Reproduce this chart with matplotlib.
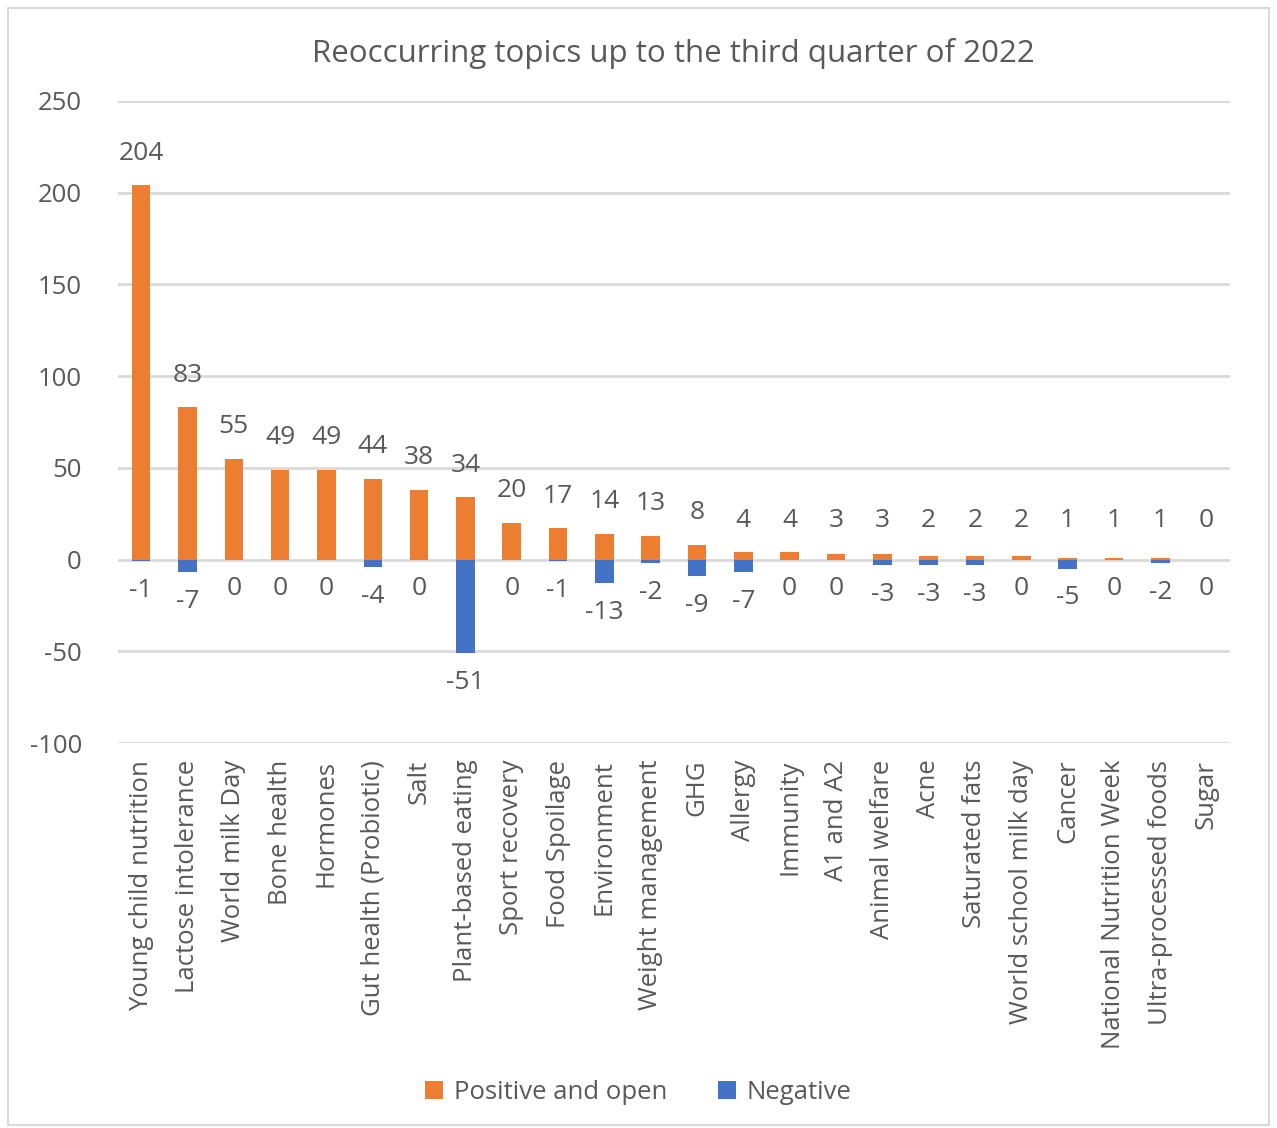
import numpy as np
from matplotlib import pyplot as plt
from matplotlib.patches import Rectangle

topics = ['Young child nutrition', 'Lactose intolerance', 'World milk Day', 'Bone health',
          'Hormones', 'Gut health (Probiotic)', 'Salt', 'Plant-based eating', 'Sport recovery',
          'Food Spoilage', 'Environment', 'Weight management', 'GHG', 'Allergy', 'Immunity',
          'A1 and A2', 'Animal welfare', 'Acne', 'Saturated fats', 'World school milk day',
          'Cancer', 'National Nutrition Week', 'Ultra-processed foods', 'Sugar']
positive = [204, 83, 55, 49, 49, 44, 38, 34, 20, 17, 14, 13, 8, 4, 4, 3, 3, 2, 2, 2, 1, 1, 1, 0]
negative = [-1, -7, 0, 0, 0, -4, 0, -51, 0, -1, -13, -2, -9, -7, 0, 0, -3, -3, -3, 0, -5, 0, -2, 0]

plt.rcParams['font.family'] = ['Open Sans', 'DejaVu Sans']
plt.rcParams['axes.unicode_minus'] = False
txt = '#595959'
orange = '#ED7D31'
blue = '#4472C4'

fig = plt.figure(figsize=(12.77, 11.28), dpi=100)
ax = fig.add_axes([0.0924, 0.3413, 0.8706, 0.5692])
fig.patches.append(Rectangle((0.006, 0.003), 0.988, 0.99, transform=fig.transFigure,
                             fill=False, edgecolor='#d9d9d9', linewidth=1.5))

x = np.arange(len(topics))
ax.bar(x, positive, width=0.4, color=orange, label='Positive and open', zorder=3)
ax.bar(x, negative, width=0.4, color=blue, label='Negative', zorder=3)

# data labels, roughly where Excel put them
for i in x:
    p = positive[i]
    n = negative[i]
    ax.annotate(str(p), (i, max(p, 4)), xytext=(0, 14), textcoords='offset points',
                ha='center', va='bottom', fontsize=19, color=txt)
    ax.annotate(str(n), (i, min(n, 0)), xytext=(0, -12), textcoords='offset points',
                ha='center', va='top', fontsize=19, color=txt)

ax.set_ylim(-100, 250)
ax.set_xlim(-0.5, len(topics) - 0.5)
ax.set_yticks(np.arange(-100, 251, 50))
ax.yaxis.grid(True, color='#d9d9d9', linewidth=2)
ax.set_axisbelow(True)
ax.tick_params(axis='y', length=0, labelsize=18.5, labelcolor=txt, pad=26)
ax.tick_params(axis='x', length=0, labelsize=18.5, labelcolor=txt, pad=12)
ax.set_xticks(x)
ax.set_xticklabels(topics, rotation=90, va='top')
for s in ax.spines.values():
    s.set_visible(False)

ax.set_title('Reoccurring topics up to the third quarter of 2022', fontsize=22.5,
             color=txt, pad=28)
fig.legend(loc='lower center', bbox_to_anchor=(0.5, 0.0), ncol=2, frameon=False,
           fontsize=18.5, labelcolor=txt, handlelength=0.7, handleheight=0.7,
           columnspacing=2.0, handletextpad=0.4)

plt.savefig('out.png', dpi=100)
